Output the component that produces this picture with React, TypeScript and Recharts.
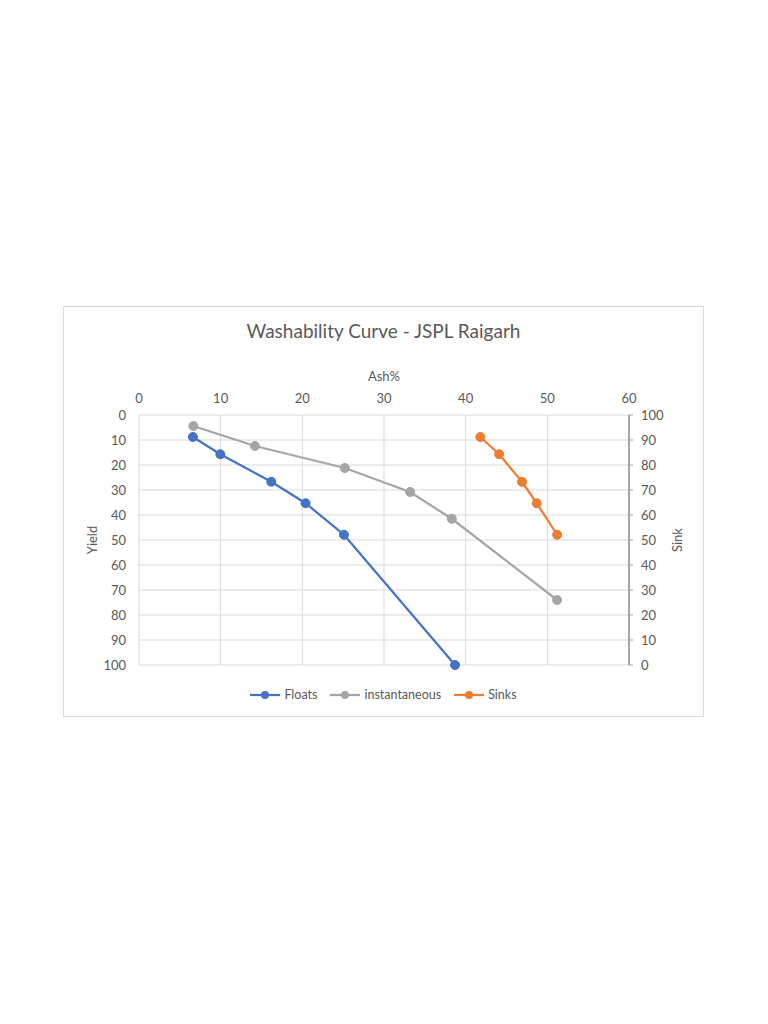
import React from 'react';
import { LineChart, Line, XAxis, YAxis, CartesianGrid } from 'recharts';

const floatsAsh = [6.6, 9.96, 16.2, 20.4, 25.1, 38.7];
const floatsYield = [8.8, 15.7, 26.7, 35.3, 47.9, 100];

const instAsh = [6.66, 14.2, 25.2, 33.2, 38.3, 51.2];
const instYield = [4.4, 12.4, 21.2, 30.8, 41.5, 74];

const sinksAsh = [41.8, 44.1, 46.9, 48.7, 51.2];
const sinksSink = [91.2, 84.3, 73.3, 64.7, 52.1];

const ashTicks = [0, 10, 20, 30, 40, 50, 60];
const yieldTicks = [0, 10, 20, 30, 40, 50, 60, 70, 80, 90, 100];
const sinkTicks = [0, 10, 20, 30, 40, 50, 60, 70, 80, 90, 100];

const seriesNames = ['Floats', 'instantaneous', 'Sinks'];
const seriesColors = ['#4472C4', '#A5A5A5', '#ED7D31'];

const floatsData = floatsAsh.map((a, i) => ({ ash: a, y: floatsYield[i] }));
const instData = instAsh.map((a, i) => ({ ash: a, y: instYield[i] }));
const sinksData = sinksAsh.map((a, i) => ({ ash: a, s: sinksSink[i] }));

const FONT = 'Lato, "Open Sans", sans-serif';
const TXT = '#595959';

export default function App() {
  const tickStyle = { fontSize: 13, fill: TXT, fontFamily: FONT };
  return (
    <div style={{ position: 'absolute', left: 0, top: 0, width: 768, height: 1024, background: '#fff', fontFamily: FONT }}>
      <div style={{ position: 'absolute', left: 63, top: 306, width: 641, height: 411, boxSizing: 'border-box', border: '1px solid #d9d9d9' }} />
      <div style={{ position: 'absolute', left: 63, top: 306 }}>
        <LineChart width={641} height={411} margin={{ top: 79, left: 36, right: 35, bottom: 52 }}>
          <CartesianGrid xAxisId="x" yAxisId="left" stroke="#d9d9d9" strokeWidth={1} />
          <XAxis
            xAxisId="x"
            type="number"
            dataKey="ash"
            orientation="top"
            domain={[0, 60]}
            ticks={ashTicks}
            height={30}
            axisLine={false}
            tickLine={false}
            tickSize={6}
            tickMargin={6}
            tick={tickStyle}
            allowDataOverflow
          />
          <YAxis
            yAxisId="left"
            type="number"
            domain={[0, 100]}
            ticks={yieldTicks}
            reversed
            width={40}
            axisLine={false}
            tickLine={false}
            tickSize={6}
            tickMargin={7}
            tick={tickStyle}
          />
          <YAxis
            yAxisId="right"
            orientation="right"
            type="number"
            domain={[0, 100]}
            ticks={sinkTicks}
            width={40}
            axisLine={{ stroke: '#a6a6a6', strokeWidth: 2 }}
            tickLine={{ stroke: '#a6a6a6', strokeWidth: 1 }}
            tickSize={4}
            tickMargin={8}
            tick={tickStyle}
          />
          <Line
            xAxisId="x"
            yAxisId="left"
            data={floatsData}
            dataKey="y"
            name={seriesNames[0]}
            stroke={seriesColors[0]}
            strokeWidth={2.25}
            dot={{ r: 4.5, fill: seriesColors[0], stroke: seriesColors[0], strokeWidth: 1 }}
            isAnimationActive={false}
          />
          <Line
            xAxisId="x"
            yAxisId="left"
            data={instData}
            dataKey="y"
            name={seriesNames[1]}
            stroke={seriesColors[1]}
            strokeWidth={2.25}
            dot={{ r: 4.5, fill: seriesColors[1], stroke: seriesColors[1], strokeWidth: 1 }}
            isAnimationActive={false}
          />
          <Line
            xAxisId="x"
            yAxisId="right"
            data={sinksData}
            dataKey="s"
            name={seriesNames[2]}
            stroke={seriesColors[2]}
            strokeWidth={2.25}
            dot={{ r: 4.5, fill: seriesColors[2], stroke: seriesColors[2], strokeWidth: 1 }}
            isAnimationActive={false}
          />
        </LineChart>
      </div>
      <div style={{ position: 'absolute', left: 63, width: 641, top: 319, textAlign: 'center', fontSize: 19, color: TXT, lineHeight: '24px' }}>
        Washability Curve - JSPL Raigarh
      </div>
      <div style={{ position: 'absolute', left: 334, width: 100, top: 368, textAlign: 'center', fontSize: 13, color: TXT, lineHeight: '16px' }}>
        Ash%
      </div>
      <div style={{ position: 'absolute', left: 42, width: 100, top: 532, textAlign: 'center', fontSize: 13, color: TXT, lineHeight: '16px', transform: 'rotate(-90deg)' }}>
        Yield
      </div>
      <div style={{ position: 'absolute', left: 627, width: 100, top: 532, textAlign: 'center', fontSize: 13, color: TXT, lineHeight: '16px', transform: 'rotate(-90deg)' }}>
        Sink
      </div>
      <div style={{ position: 'absolute', left: 63, width: 641, top: 686, display: 'flex', justifyContent: 'center', alignItems: 'center', fontSize: 12.5, color: TXT, lineHeight: '18px' }}>
        {seriesNames.map((n, i) => (
          <div key={n} style={{ display: 'flex', alignItems: 'center', marginRight: i < seriesNames.length - 1 ? 13 : 0 }}>
            <svg width={30} height={10} style={{ marginRight: 4 }}>
              <line x1={0} y1={5} x2={30} y2={5} stroke={seriesColors[i]} strokeWidth={2.25} />
              <circle cx={15} cy={5} r={4} fill={seriesColors[i]} />
            </svg>
            <span>{n}</span>
          </div>
        ))}
      </div>
    </div>
  );
}
